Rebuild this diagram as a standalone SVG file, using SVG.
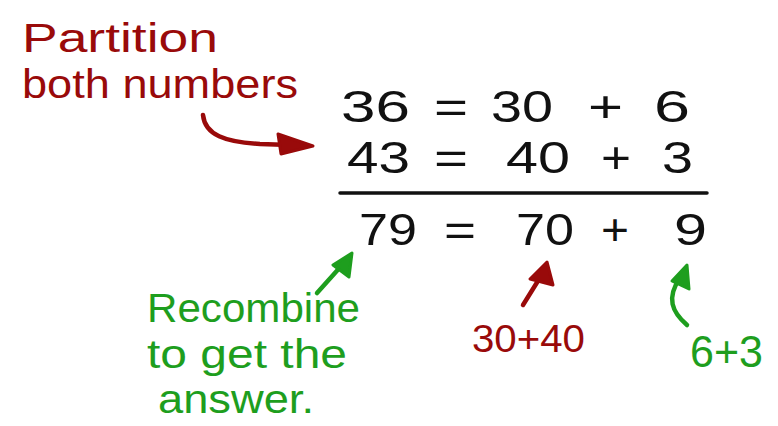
<svg xmlns="http://www.w3.org/2000/svg" width="778" height="426" viewBox="0 0 778 426">
<style>
text{font-family:"Liberation Sans","DejaVu Sans",sans-serif;}
.red{fill:#990a0a;}
.grn{fill:#1e9e1e;}
.blk{fill:#111;}
.num{font-size:45px;}
.lbl{font-size:40px;}
.conn{fill:none;stroke-width:4.5;stroke-linecap:round;stroke-linejoin:round;}
</style>
<rect width="778" height="426" fill="#fff"/>
<g id="partition-label" class="red">
<text x="22" y="52" class="lbl" textLength="196" lengthAdjust="spacingAndGlyphs">Partition</text>
<text x="22" y="98" class="lbl" textLength="276" lengthAdjust="spacingAndGlyphs">both numbers</text>
</g>
<g id="row1" class="blk num">
<text x="341" y="122" textLength="69" lengthAdjust="spacingAndGlyphs">36</text>
<text x="434" y="122" textLength="34" lengthAdjust="spacingAndGlyphs">=</text>
<text x="491" y="122" textLength="62" lengthAdjust="spacingAndGlyphs">30</text>
<text x="588" y="122" textLength="35" lengthAdjust="spacingAndGlyphs">+</text>
<text x="654" y="122" textLength="36" lengthAdjust="spacingAndGlyphs">6</text>
</g>
<g id="row2" class="blk num">
<text x="347" y="173" textLength="63" lengthAdjust="spacingAndGlyphs">43</text>
<text x="434" y="173" textLength="34" lengthAdjust="spacingAndGlyphs">=</text>
<text x="506" y="173" textLength="64" lengthAdjust="spacingAndGlyphs">40</text>
<text x="601" y="173" textLength="30" lengthAdjust="spacingAndGlyphs">+</text>
<text x="662" y="173" textLength="31" lengthAdjust="spacingAndGlyphs">3</text>
</g>
<g id="sum-line">
<line x1="340" y1="193" x2="707" y2="193" stroke="#111" stroke-width="3.5" stroke-linecap="round"/>
</g>
<g id="row3" class="blk num">
<text x="359" y="245" textLength="58" lengthAdjust="spacingAndGlyphs">79</text>
<text x="444" y="245" textLength="32" lengthAdjust="spacingAndGlyphs">=</text>
<text x="516" y="245" textLength="58" lengthAdjust="spacingAndGlyphs">70</text>
<text x="601" y="245" textLength="28" lengthAdjust="spacingAndGlyphs">+</text>
<text x="674" y="245" textLength="33" lengthAdjust="spacingAndGlyphs">9</text>
</g>
<g id="recombine-label" class="grn">
<text x="147" y="322" class="lbl" textLength="213" lengthAdjust="spacingAndGlyphs">Recombine</text>
<text x="147" y="368" class="lbl" textLength="200" lengthAdjust="spacingAndGlyphs">to get the</text>
<text x="158" y="413" class="lbl" textLength="156" lengthAdjust="spacingAndGlyphs">answer.</text>
</g>
<g id="tens-label" class="red">
<text x="472" y="352" font-size="38" textLength="113" lengthAdjust="spacingAndGlyphs">30+40</text>
</g>
<g id="ones-label" class="grn">
<text x="690" y="367" font-size="44" textLength="73" lengthAdjust="spacingAndGlyphs">6+3</text>
</g>
<g id="connectors">
<path class="conn" stroke="#990a0a" d="M203,115 C205,135 225,142 260,144 L290,145"/>
<path fill="#990a0a" stroke="#990a0a" stroke-width="3" stroke-linejoin="round" d="M278,134 L313,146 L281,154 Z"/>
<path class="conn" stroke="#1e9e1e" d="M317,293 L343,264"/>
<path fill="#1e9e1e" stroke="#1e9e1e" stroke-width="3" stroke-linejoin="round" d="M333,265 L352,253 L349,277 Z"/>
<path class="conn" stroke="#990a0a" d="M523,305 L541,276"/>
<path fill="#990a0a" stroke="#990a0a" stroke-width="3" stroke-linejoin="round" d="M530,279 L547,262 L553,285 Z"/>
<path class="conn" stroke="#1e9e1e" d="M687,325 C672,312 666,298 680,278"/>
<path fill="#1e9e1e" stroke="#1e9e1e" stroke-width="3" stroke-linejoin="round" d="M672,281 L687,265 L689,289 Z"/>
</g>
</svg>
